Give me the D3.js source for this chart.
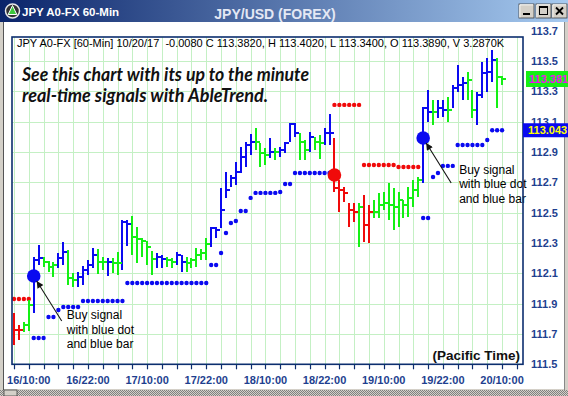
<!DOCTYPE html>
<html>
<head>
<meta charset="utf-8">
<script src="https://cdn.jsdelivr.net/npm/d3@7/dist/d3.min.js"></script>
<style>
  html, body { margin: 0; padding: 0; background: #fff; overflow: hidden; }
  svg { display: block; font-family: "Liberation Sans", Arial, sans-serif; }
</style>
</head>
<body>
<svg id="chart" width="568" height="396"></svg>
<script>
// hourly bars, first bar is 16 Oct 2017 07:00 (Pacific time)
var firstBar = Date.UTC(2017, 9, 16, 7);

var highs = [
  111.838, 111.759, 111.779, 111.924, 112.208, 112.287, 112.208, 112.181, 112.175, 112.234,
  112.306, 112.254, 112.102, 112.109, 112.148, 112.188, 112.267, 112.260, 112.208, 112.201,
  112.201, 112.240, 112.452, 112.452, 112.478, 112.405, 112.333, 112.313, 112.247, 112.234,
  112.221, 112.208, 112.201, 112.240, 112.221, 112.208, 112.201, 112.267, 112.260, 112.333,
  112.405, 112.405, 112.662, 112.768, 112.748, 112.834, 112.933, 112.966, 113.019, 113.058,
  112.959, 112.926, 112.992, 112.926, 112.933, 112.966, 113.091, 113.091, 113.025, 112.979,
  113.032, 112.999, 113.012, 113.058, 113.150, 112.992, 112.715, 112.669, 112.564, 112.564,
  112.564, 112.616, 112.550, 112.583, 112.630, 112.636, 112.695, 112.662, 112.636, 112.583,
  112.669, 112.715, 112.735, 113.197, 113.309, 113.243, 113.243, 113.243, 113.262, 113.342,
  113.473, 113.394, 113.427, 113.309, 113.295, 113.493, 113.520, 113.572, 113.520, 113.402
];
var lows = [
  111.627, 111.660, 111.713, 111.720, 111.838, 112.155, 112.142, 112.109, 112.076, 112.135,
  112.155, 112.023, 112.010, 112.010, 112.023, 112.089, 112.135, 112.095, 112.122, 112.082,
  112.102, 112.089, 112.122, 112.280, 112.221, 112.168, 112.208, 112.155, 112.089, 112.135,
  112.135, 112.142, 112.135, 112.155, 112.109, 112.109, 112.135, 112.142, 112.188, 112.188,
  112.273, 112.333, 112.399, 112.597, 112.669, 112.682, 112.761, 112.801, 112.880, 112.913,
  112.801, 112.814, 112.860, 112.847, 112.867, 112.893, 112.966, 112.999, 112.847, 112.847,
  112.900, 112.913, 112.854, 112.946, 112.946, 112.636, 112.504, 112.570, 112.405, 112.438,
  112.273, 112.306, 112.300, 112.465, 112.465, 112.517, 112.452, 112.386, 112.405, 112.465,
  112.471, 112.537, 112.603, 112.695, 113.098, 113.078, 113.124, 113.131, 113.098, 113.190,
  113.295, 113.243, 113.243, 113.124, 113.078, 113.256, 113.295, 113.361, 113.190, 113.340
];
var closes = [
  111.726, 111.726, 111.759, 111.891, 112.188, 112.201, 112.175, 112.142, 112.155, 112.201,
  112.240, 112.069, 112.056, 112.076, 112.122, 112.155, 112.221, 112.175, 112.175, 112.175,
  112.168, 112.168, 112.438, 112.425, 112.339, 112.326, 112.313, 112.273, 112.194, 112.208,
  112.194, 112.188, 112.175, 112.221, 112.175, 112.168, 112.188, 112.221, 112.234, 112.293,
  112.399, 112.386, 112.517, 112.649, 112.728, 112.768, 112.867, 112.946, 112.966, 112.966,
  112.893, 112.880, 112.900, 112.900, 112.913, 112.959, 113.084, 113.025, 112.966, 112.913,
  112.999, 112.966, 112.959, 113.025, 113.025, 112.662, 112.649, 112.630, 112.517, 112.504,
  112.537, 112.419, 112.504, 112.504, 112.550, 112.564, 112.550, 112.537, 112.583, 112.550,
  112.597, 112.649, 112.715, 113.190, 113.164, 113.164, 113.190, 113.177, 113.177, 113.322,
  113.342, 113.355, 113.375, 113.177, 113.276, 113.421, 113.427, 113.506, 113.394, 113.382
];
// b = blue (up trend), g = green (neutral), r = red (down trend)
var barColors = ("rrggbbgggb" + "bggbbbbggb" + "ggbbgggggb" + "bggbbggggg" + "bbbbbbbbbg" +
                 "ggbgbbbbgg" + "bggbbrrrrr" + "grrggggggg" + "gggbbgbbgb" + "bbggbbbbgg").split("");

// stop dots: [first bar, last bar, price]
var supportStops = [
  [4, 6, 111.673], [7, 8, 111.812], [9, 9, 111.858], [10, 13, 111.878], [14, 22, 111.917],
  [23, 39, 112.036], [40, 41, 112.155], [42, 42, 112.234], [43, 43, 112.366], [44, 44, 112.432],
  [45, 45, 112.445], [46, 47, 112.511], [48, 48, 112.597], [49, 53, 112.630], [54, 54, 112.636],
  [55, 56, 112.689], [57, 64, 112.761], [83, 84, 112.465], [85, 85, 112.735], [86, 86, 112.761],
  [87, 89, 112.808], [90, 95, 112.946], [96, 96, 112.979], [97, 99, 113.043]
];
var resistStops = [[0, 3, 111.931], [65, 70, 113.210], [71, 77, 112.814], [78, 82, 112.801]];

// signals: [bar, price]
var buySignals = [[4, 112.082], [83, 112.992]];
var sellSignals = [[65, 112.748]];

var priceTicks = [111.5, 111.7, 111.9, 112.1, 112.3, 112.5, 112.7, 112.9, 113.1, 113.3, 113.5, 113.7];
var lastClose = 113.381;
var stopLevel = 113.043;

var headerText = "JPY A0-FX [60-Min] 10/20/17  -0.0080 C 113.3820, H 113.4020, L 113.3400, O 113.3890, V 3.2870K";

var palette = { b: "#0a0af0", g: "#14f014", r: "#f00a0a" };
var axisBlue = "#1e3f8f";

function barTime(i) { return new Date(firstBar + i * 3600e3); }

var svg = d3.select("#chart");
var W = 568, H = 396;
var plot = { left: 12, right: 523, top: 37, bottom: 364.3 };

var x = d3.scaleUtc()
    .domain([barTime(-0.406), barTime(103.25)])
    .range([plot.left, plot.right]);
var y = d3.scaleLinear()
    .domain([111.5, 113.7])
    .range([364.3, 30.6]);

// ---------- window frame ----------
var defs = svg.append("defs");
var grad = defs.append("linearGradient").attr("id", "titleGrad")
    .attr("x1", 0).attr("x2", 1).attr("y1", 0).attr("y2", 0);
grad.append("stop").attr("offset", "0%").attr("stop-color", "#0a246a");
grad.append("stop").attr("offset", "100%").attr("stop-color", "#a6caf0");

var hatch = defs.append("pattern").attr("id", "hatch")
    .attr("width", 2).attr("height", 2).attr("patternUnits", "userSpaceOnUse");
hatch.append("rect").attr("width", 2).attr("height", 2).attr("fill", "#d4d0c8");
hatch.append("rect").attr("width", 1).attr("height", 1).attr("fill", "#808080");
hatch.append("rect").attr("x", 1).attr("y", 1).attr("width", 1).attr("height", 1).attr("fill", "#808080");

defs.append("clipPath").attr("id", "plotClip").append("rect")
    .attr("x", plot.left).attr("y", plot.top)
    .attr("width", plot.right - plot.left).attr("height", plot.bottom - plot.top);
defs.append("clipPath").attr("id", "headClip").append("rect")
    .attr("x", plot.left).attr("y", plot.top).attr("width", 493).attr("height", 20);

defs.append("marker").attr("id", "arrow")
    .attr("viewBox", "0 0 10 10").attr("refX", 10).attr("refY", 5)
    .attr("markerWidth", 9).attr("markerHeight", 7)
    .attr("markerUnits", "userSpaceOnUse").attr("orient", "auto")
  .append("path").attr("d", "M0,0L10,5L0,10z").attr("fill", "#111");

svg.append("rect").attr("width", W).attr("height", H).attr("fill", "#d4d0c8");
svg.append("rect").attr("x", 0).attr("y", 0).attr("width", W).attr("height", 22).attr("fill", "url(#titleGrad)");
svg.append("rect").attr("x", 4).attr("y", 22).attr("width", 560).attr("height", 367).attr("fill", "#fff");
svg.append("line").attr("x1", 3.5).attr("x2", 3.5).attr("y1", 22).attr("y2", 390).attr("stroke", "#555");
svg.append("line").attr("x1", 564.5).attr("x2", 564.5).attr("y1", 22).attr("y2", 390).attr("stroke", "#888");
svg.append("rect").attr("x", 0).attr("y", 390).attr("width", W).attr("height", 6).attr("fill", "url(#hatch)");
svg.append("rect").attr("x", 4).attr("y", 390).attr("width", 13).attr("height", 6)
    .attr("fill", "#d4d0c8").attr("stroke", "#404040").attr("stroke-width", 0.8);

// title bar icon
svg.append("circle").attr("cx", 12.5).attr("cy", 11).attr("r", 7)
    .attr("fill", "#333").attr("stroke", "#e8e8e8").attr("stroke-width", 1.5);
svg.append("path").attr("d", "M12.5,5.5L8.2,14.5L16.8,14.5Z")
    .attr("fill", "#3cc83c").attr("stroke", "#fff").attr("stroke-width", 1);

svg.append("text").attr("x", 22).attr("y", 16)
    .attr("fill", "#fff").attr("font-weight", "bold").attr("font-size", "11.5px")
    .text("JPY A0-FX 60-Min");
svg.append("text").attr("x", 275).attr("y", 19).attr("text-anchor", "middle")
    .attr("fill", "#e4e8f4").attr("font-weight", "bold").attr("font-size", "14px")
    .text("JPY/USD (FOREX)");

// window buttons
var buttons = [519, 536, 552];
buttons.forEach(function(bx, k) {
  svg.append("rect").attr("x", bx).attr("y", 4).attr("width", 15).attr("height", 14)
      .attr("fill", "#d4d0c8").attr("stroke", "#404040").attr("stroke-width", 0.8);
  svg.append("path").attr("d", "M" + (bx + 0.8) + ",17.5V4.8H" + (bx + 14.2))
      .attr("fill", "none").attr("stroke", "#fff").attr("stroke-width", 1);
  if (k === 0) {
    svg.append("rect").attr("x", bx + 4).attr("y", 13).attr("width", 7).attr("height", 2).attr("fill", "#000");
  } else if (k === 1) {
    svg.append("rect").attr("x", bx + 3.5).attr("y", 6.5).attr("width", 8).attr("height", 8)
        .attr("fill", "none").attr("stroke", "#000").attr("stroke-width", 1);
    svg.append("rect").attr("x", bx + 3).attr("y", 6).attr("width", 9).attr("height", 2).attr("fill", "#000");
  } else {
    svg.append("path").attr("d", "M" + (bx + 4) + ",7.5L" + (bx + 11) + ",14.5M" + (bx + 11) + ",7.5L" + (bx + 4) + ",14.5")
        .attr("stroke", "#000").attr("stroke-width", 1.8);
  }
});

// ---------- grid ----------
var timeTicks = d3.range(0, 104, 3).map(barTime);
var labelTicks = d3.range(3, 100, 12).map(barTime);

var grid = svg.append("g").attr("clip-path", "url(#plotClip)").attr("shape-rendering", "crispEdges");
grid.selectAll("line.v").data(timeTicks).join("line")
    .attr("x1", function(d) { return Math.round(x(d)) + 0.5; })
    .attr("x2", function(d) { return Math.round(x(d)) + 0.5; })
    .attr("y1", plot.top).attr("y2", plot.bottom)
    .attr("stroke", "#c4f0c4");
grid.selectAll("line.h").data(priceTicks).join("line")
    .attr("x1", plot.left).attr("x2", plot.right)
    .attr("y1", function(d) { return Math.round(y(d)) + 0.5; })
    .attr("y2", function(d) { return Math.round(y(d)) + 0.5; })
    .attr("stroke", "#c4f0c4");

// header line inside the plot
svg.append("text").attr("clip-path", "url(#headClip)")
    .attr("x", 17).attr("y", 47).attr("font-size", "11px").attr("fill", "#000")
    .attr("xml:space", "preserve").style("white-space", "pre")
    .text(headerText);

// promo text
var promo = svg.append("g").attr("font-family", "Lato, 'Open Sans', sans-serif")
    .attr("font-weight", "bold").attr("font-style", "italic").attr("font-size", "19px").attr("fill", "#111");
promo.append("text").attr("x", 22).attr("y", 81)
    .attr("textLength", 287).attr("lengthAdjust", "spacingAndGlyphs")
    .text("See this chart with its up to the minute");
promo.append("text").attr("x", 22).attr("y", 102)
    .attr("textLength", 246).attr("lengthAdjust", "spacingAndGlyphs")
    .text("real-time signals with AbleTrend.");

// ---------- marks ----------
var bars = highs.map(function(h, i) {
  return { t: barTime(i), h: h, l: lows[i], c: closes[i], col: palette[barColors[i]] };
});

var marks = svg.append("g").attr("clip-path", "url(#plotClip)");

function expand(runs) {
  var out = [];
  runs.forEach(function(r) {
    for (var i = r[0]; i <= r[1]; i++) out.push({ t: barTime(i), p: r[2] });
  });
  return out;
}

marks.selectAll("circle.sup").data(expand(supportStops)).join("circle")
    .attr("cx", function(d) { return x(d.t); })
    .attr("cy", function(d) { return y(d.p); })
    .attr("r", 2.2).attr("fill", "#0a0af0");
marks.selectAll("circle.res").data(expand(resistStops)).join("circle")
    .attr("cx", function(d) { return x(d.t); })
    .attr("cy", function(d) { return y(d.p); })
    .attr("r", 2.2).attr("fill", "#f00a0a");

var barG = marks.append("g").attr("shape-rendering", "crispEdges");
barG.selectAll("line.hl").data(bars).join("line")
    .attr("x1", function(d) { return Math.round(x(d.t)); })
    .attr("x2", function(d) { return Math.round(x(d.t)); })
    .attr("y1", function(d) { return y(d.h); })
    .attr("y2", function(d) { return y(d.l); })
    .attr("stroke", function(d) { return d.col; }).attr("stroke-width", 2);
barG.selectAll("line.cl").data(bars).join("line")
    .attr("x1", function(d) { return Math.round(x(d.t)) + 1; })
    .attr("x2", function(d) { return Math.round(x(d.t)) + 4; })
    .attr("y1", function(d) { return y(d.c); })
    .attr("y2", function(d) { return y(d.c); })
    .attr("stroke", function(d) { return d.col; }).attr("stroke-width", 2);

marks.selectAll("circle.buy").data(buySignals).join("circle")
    .attr("cx", function(d) { return x(barTime(d[0])); })
    .attr("cy", function(d) { return y(d[1]); })
    .attr("r", 6.8).attr("fill", "#0a0af0");
marks.selectAll("circle.sell").data(sellSignals).join("circle")
    .attr("cx", function(d) { return x(barTime(d[0])); })
    .attr("cy", function(d) { return y(d[1]); })
    .attr("r", 6.8).attr("fill", "#f00a0a");

// annotations pointing at the buy signals
var notes = [
  { sig: buySignals[0], tx: 33, ty: 43 },
  { sig: buySignals[1], tx: 36, ty: 36 }
];
var noteG = svg.append("g");
notes.forEach(function(n) {
  var cx = x(barTime(n.sig[0])), cy = y(n.sig[1]);
  noteG.append("line")
      .attr("x1", cx + 28).attr("y1", cy + 45)
      .attr("x2", cx + 3).attr("y2", cy + 5)
      .attr("stroke", "#111").attr("stroke-width", 1.1)
      .attr("marker-end", "url(#arrow)");
  var t = noteG.append("text").attr("font-size", "12px").attr("fill", "#000");
  ["Buy signal", "with blue dot", "and blue bar"].forEach(function(s, k) {
    t.append("tspan").attr("x", cx + n.tx).attr("y", cy + n.ty + k * 14.5).text(s);
  });
});

svg.append("text").attr("x", 520).attr("y", 360).attr("text-anchor", "end")
    .attr("font-weight", "bold").attr("font-size", "13.5px").attr("fill", "#111")
    .text("(Pacific Time)");

// plot border
svg.append("rect").attr("x", plot.left).attr("y", plot.top)
    .attr("width", plot.right - plot.left).attr("height", plot.bottom - plot.top)
    .attr("fill", "none").attr("stroke", "#0c2e6e").attr("stroke-width", 1.6);

// ---------- axes ----------
var xAxisG = svg.append("g");
xAxisG.selectAll("line").data(timeTicks.filter(function(d) { return x(d) < plot.right; })).join("line")
    .attr("x1", function(d) { return Math.round(x(d)) + 0.5; })
    .attr("x2", function(d) { return Math.round(x(d)) + 0.5; })
    .attr("y1", plot.bottom).attr("y2", plot.bottom + 5)
    .attr("stroke", "#0c2e6e").attr("stroke-width", 1.2);
var fmt = d3.utcFormat("%d/%H:%M");
xAxisG.selectAll("text").data(labelTicks).join("text")
    .attr("x", function(d) { return x(d); }).attr("y", 384)
    .attr("text-anchor", "middle").attr("font-weight", "bold").attr("font-size", "11px")
    .attr("fill", axisBlue)
    .text(function(d) { return fmt(d); });

// price labels (113.1 sits partly under the stop tag, as in the original)
svg.append("g").selectAll("text").data(priceTicks).join("text")
    .attr("x", 531).attr("y", function(d) { return y(d); }).attr("dy", "0.36em")
    .attr("font-weight", "bold").attr("font-size", "11px").attr("fill", axisBlue)
    .text(function(d) { return d3.format(".1f")(d); });

// last price and stop level tags
svg.append("rect").attr("x", 526).attr("y", y(lastClose) - 8).attr("width", 42).attr("height", 16).attr("fill", "#14f014");
svg.append("text").attr("x", 529).attr("y", y(lastClose)).attr("dy", "0.36em")
    .attr("font-weight", "bold").attr("font-size", "11px").attr("fill", "#f010f0")
    .text(d3.format(".3f")(lastClose));
svg.append("rect").attr("x", 523).attr("y", y(stopLevel) - 7).attr("width", 45).attr("height", 14).attr("fill", "#0a0af0");
svg.append("text").attr("x", 528).attr("y", y(stopLevel)).attr("dy", "0.36em")
    .attr("font-weight", "bold").attr("font-size", "11px").attr("fill", "#ffff00")
    .text(d3.format(".3f")(stopLevel));
</script>
</body>
</html>
